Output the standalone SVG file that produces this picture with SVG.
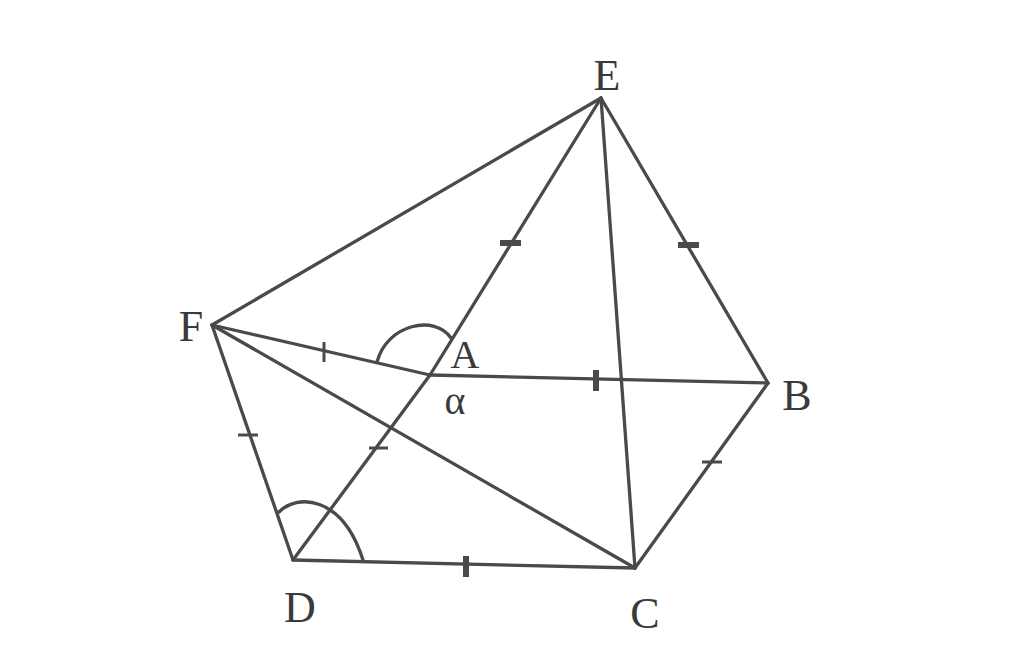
<svg xmlns="http://www.w3.org/2000/svg" width="1024" height="668" viewBox="0 0 1024 668">
<style>
.ln{stroke:#4a4a4a;stroke-width:3.3;fill:none;stroke-linecap:round}
.tk{stroke:#4a4a4a;stroke-width:3;fill:none}
.tk2{stroke:#4a4a4a;stroke-width:6;fill:none}
.lb{font-family:"Liberation Serif",serif;font-size:44px;fill:#3a3a3a;text-anchor:middle}
.sm{font-family:"Liberation Serif",serif;font-size:40px;fill:#3a3a3a;text-anchor:middle}
</style>
<rect width="1024" height="668" fill="#ffffff"/>
<g id="connectors">
<line class="ln" x1="601" y1="98" x2="212" y2="325"/>
<line class="ln" x1="601" y1="98" x2="430" y2="375"/>
<line class="ln" x1="430" y1="375" x2="293" y2="560"/>
<line class="ln" x1="601" y1="98" x2="635" y2="568"/>
<line class="ln" x1="601" y1="98" x2="768" y2="383"/>
<line class="ln" x1="212" y1="325" x2="430" y2="375"/>
<line class="ln" x1="430" y1="375" x2="768" y2="383"/>
<line class="ln" x1="212" y1="325" x2="293" y2="560"/>
<line class="ln" x1="212" y1="325" x2="635" y2="568"/>
<line class="ln" x1="293" y1="560" x2="635" y2="568"/>
<line class="ln" x1="635" y1="568" x2="768" y2="383"/>
<path class="ln" d="M377 362 C387 324 435 314 451 338"/>
<path class="ln" d="M279 512 C296 494 342 494 363 560"/>
<g id="ticks">
<line class="tk2" x1="500" y1="243" x2="521" y2="243"/>
<line class="tk2" x1="678" y1="245" x2="699" y2="245"/>
<line class="tk2" x1="596" y1="370" x2="596" y2="391"/>
<line class="tk2" x1="466" y1="556" x2="466" y2="577"/>
<line class="tk" x1="324" y1="342" x2="324" y2="362"/>
<line class="tk" x1="369" y1="448" x2="388" y2="448"/>
<line class="tk" x1="238" y1="435" x2="258" y2="435"/>
<line class="tk" x1="702" y1="462" x2="722" y2="462"/>
</g>
</g>
<g id="E"><text class="lb" x="607" y="90">E</text></g>
<g id="F"><text class="lb" x="191" y="341">F</text></g>
<g id="A"><text class="sm" x="465" y="368">A</text></g>
<g id="alpha"><text class="sm" x="455" y="414">α</text></g>
<g id="B"><text class="lb" x="797" y="410">B</text></g>
<g id="D"><text class="lb" x="300" y="622">D</text></g>
<g id="C"><text class="lb" x="645" y="628">C</text></g>
</svg>
